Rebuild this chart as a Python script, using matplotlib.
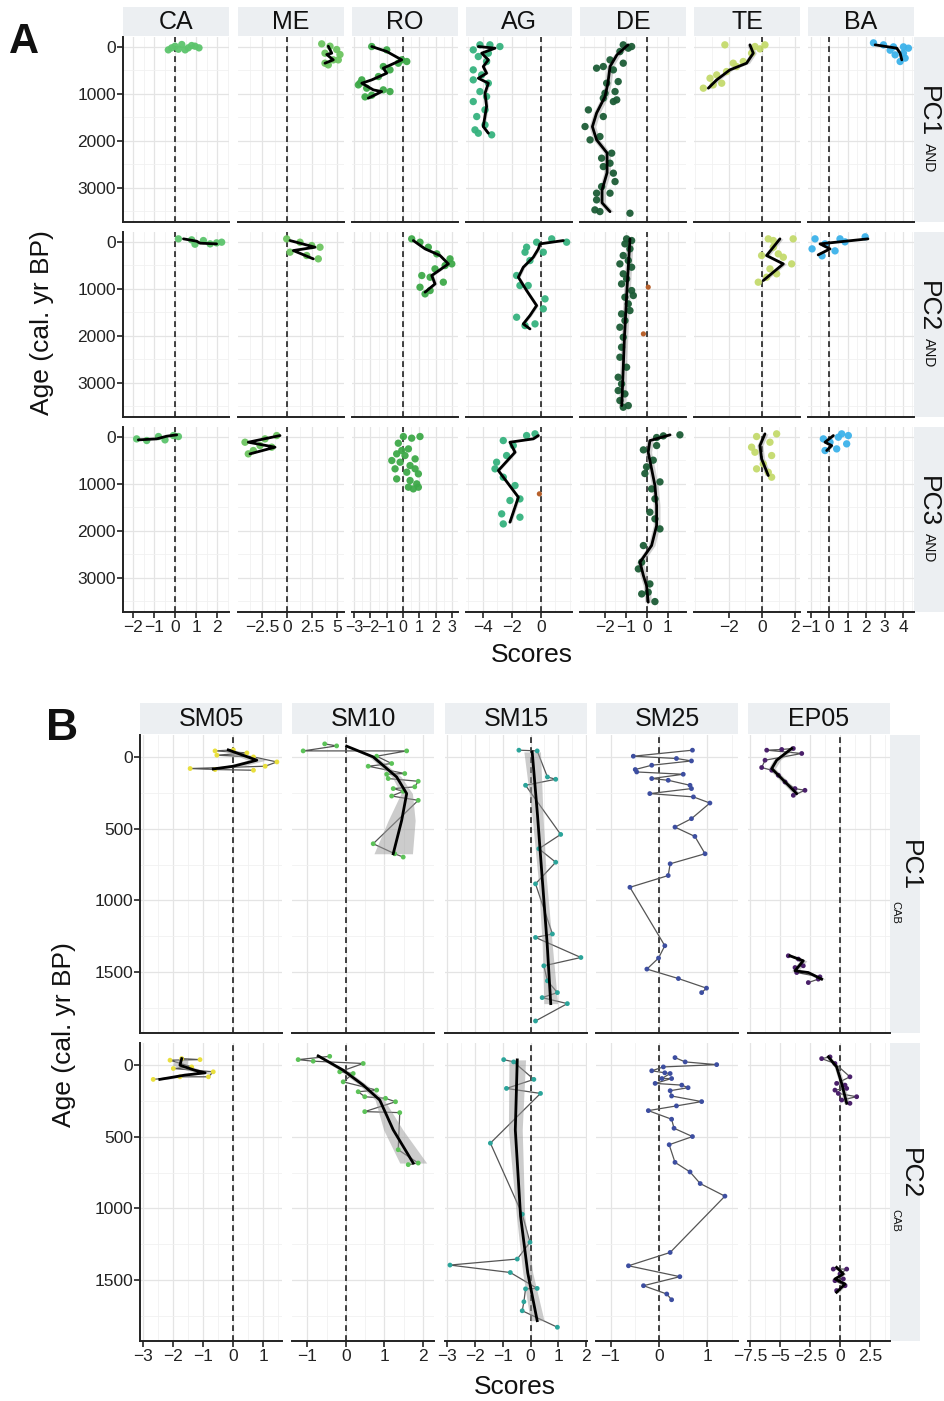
import matplotlib
matplotlib.use('Agg')
import matplotlib.pyplot as plt
from matplotlib.patches import Rectangle
from matplotlib.ticker import FixedLocator, MultipleLocator, FuncFormatter

plt.rcParams['font.family'] = ['Liberation Sans', 'DejaVu Sans']

# ---------------- panel A data: (age, score) ----------------
CA_PC1_pts = [(-50, 0.32), (-28, 0.79), (-14, 0.0), (-14, 0.95), (21, 0.63), (21, 1.14),
              (21, -0.16), (50, 0.16), (64, -0.32), (64, 0.48)]
CA_PC1_fit = []
CA_PC2_pts = [(-64, 0.16), (-43, 0.79), (-28, 1.35), (7, 2.22), (21, 1.98), (43, 1.67), (50, 0.95)]
CA_PC2_fit = [(-64, 0.40), (-14, 1.03), (28, 1.19), (43, 1.98)]
CA_PC3_pts = [(43, -1.83), (78, -1.35), (-7, -0.79), (-28, -0.08), (-7, 0.16), (64, -0.48)]
CA_PC3_fit = [(-43, 0.08), (-14, -0.40), (43, -0.87), (64, -1.75)]

ME_PC1_pts = [(-64, 3.47), (-14, 4.3), (57, 4.97), (163, 5.3), (135, 3.8), (277, 4.63),
              (348, 3.8), (384, 4.13), (277, 5.13)]
ME_PC1_fit = [(-14, 4.13), (135, 4.47), (163, 3.97), (277, 4.63), (348, 3.8)]
ME_PC2_pts = [(-64, -0.03), (7, 1.3), (114, 3.3), (220, 0.3), (362, 3.13), (291, 1.97), (79, 2.47)]
ME_PC2_fit = [(-28, 0.3), (114, 2.8), (185, 0.63), (362, 2.63)]
ME_PC3_pts = [(-28, -1.03), (114, -4.2), (185, -2.7), (220, -1.53), (362, -3.87), (43, -2.2), (291, -3.37)]
ME_PC3_fit = [(-28, -0.7), (114, -3.87), (220, -1.2), (362, -3.7)]

RO_PC1_pts = [(-7, -1.92), (64, -1.0), (277, -0.08), (312, 0.23), (419, -1.21), (490, -0.80),
              (632, -1.51), (703, -2.53), (810, -2.74), (880, -2.23), (952, -0.80), (916, -1.21),
              (1065, -2.33), (1029, -1.92), (774, -2.64), (348, -0.29)]
RO_PC1_fit = [(-7, -1.92), (99, -1.0), (277, -0.08), (454, -1.21), (561, -1.0), (703, -1.92),
              (774, -2.53), (916, -1.82), (952, -1.31), (1093, -2.13)]
RO_PC2_pts = [(-64, 0.53), (7, 1.04), (114, 1.55), (256, 2.07), (362, 2.88), (504, 2.58), (469, 2.99),
              (717, 1.15), (753, 1.66), (859, 2.47), (966, 1.04), (1037, 1.66), (1108, 1.35), (575, 1.96)]
RO_PC2_fit = [(-28, 0.63), (149, 1.35), (291, 2.27), (469, 2.78), (717, 1.76), (895, 1.96), (1072, 1.35)]
RO_PC3_pts = [(-7, 0.02), (28, 0.53), (-7, 1.04), (135, -0.29), (256, 0.33), (362, -0.39), (398, 0.12),
              (504, -0.69), (540, -0.18), (611, 0.43), (681, 0.74), (753, 0.23), (788, 0.94),
              (895, -0.39), (930, 0.43), (1001, 0.84), (1072, 0.33), (1072, 0.94), (1108, 0.63),
              (291, -0.08), (469, 0.74), (681, -0.49)]
RO_PC3_fit = []

AG_PC1_pts = [(-43, -4.21), (-43, -3.52), (-7, -2.83), (64, -4.67), (135, -3.63), (206, -4.32),
              (312, -3.75), (490, -4.67), (597, -4.09), (703, -4.67), (774, -3.63), (952, -4.21),
              (1165, -4.67), (1342, -3.86), (1484, -4.43), (1662, -3.86), (1768, -4.55), (1874, -3.40),
              (1839, -4.32), (1058, -3.75)]
AG_PC1_fit = [(-7, -4.32), (28, -3.17), (135, -4.09), (277, -3.63), (419, -3.98), (561, -3.75),
              (668, -4.32), (774, -3.63), (987, -3.86), (1271, -3.75), (1697, -3.98), (1839, -3.63)]
AG_PC2_pts = [(-64, 0.74), (7, 1.77), (114, -0.99), (220, 0.16), (398, -0.76), (717, -1.68), (930, -1.45),
              (930, -0.88), (1214, 0.28), (1427, 0.16), (1605, -1.68), (1783, -1.10), (1747, -0.41),
              (7, -0.30), (220, -1.10)]
AG_PC2_fit = [(-28, 1.54), (43, -0.07), (149, -0.18), (327, -0.53), (540, -1.22), (753, -1.56),
              (1037, -0.99), (1356, -0.30), (1569, -0.76), (1747, -1.22), (1854, -0.76)]
AG_PC3_pts = [(-64, -0.41), (79, -2.60), (185, -1.91), (398, -2.37), (681, -3.17), (859, -2.60),
              (1037, -1.79), (1321, -1.45), (1356, -2.14), (1640, -2.71), (1711, -1.45), (1854, -2.60),
              (-28, -0.99), (540, -3.06)]
AG_PC3_fit = [(-28, -0.18), (43, -0.53), (114, -2.14), (327, -1.79), (717, -2.94), (1285, -1.56), (1818, -2.14)]

DE_PC1_pts = [(-43, -1.13), (-7, -0.73), (28, -0.89), (100, -1.29), (277, -1.76), (454, -2.40), (419, -2.08),
              (348, -1.13), (490, -1.60), (739, -1.37), (774, -1.92), (987, -2.0), (952, -1.52), (1129, -1.44),
              (1093, -2.08), (1165, -1.60), (1342, -2.79), (1484, -2.08), (1697, -2.95), (2264, -1.68),
              (2371, -2.16), (2550, -2.08), (2690, -1.60), (2869, -1.52), (3116, -2.40), (3116, -1.76),
              (3259, -2.40), (3472, -2.48), (3508, -2.24), (3543, -0.81), (1981, -2.71), (1910, -2.24),
              (2478, -1.76), (2976, -2.16)]
DE_PC1_fit = [(-43, -0.9), (170, -1.43), (420, -1.76), (770, -1.86), (1060, -2.0), (1410, -2.4),
              (1700, -2.6), (1980, -2.4), (2260, -1.9), (2680, -1.9), (3050, -2.14), (3320, -2.14), (3510, -1.76)]
DE_PC2_pts = [(-64, -0.97), (-28, -0.73), (43, -1.05), (149, -0.81), (291, -1.13), (397, -0.89), (469, -1.29),
              (540, -0.73), (681, -1.13), (788, -0.97), (895, -1.21), (1037, -0.73), (1179, -1.05),
              (1321, -0.89), (1534, -1.21), (1676, -1.05), (1818, -1.29), (2031, -1.13), (2244, -1.21),
              (2457, -1.29), (2670, -0.97), (2883, -1.37), (3025, -1.21), (3238, -1.05), (3380, -1.29),
              (3487, -0.89), (3522, -1.13), (3167, -1.37), (1463, -0.81), (1143, -0.65)]
DE_PC2_fit = [(-64, -0.81), (1000, -0.95), (2000, -1.07), (3487, -1.2)]
DE_PC3_pts = [(-43, 1.57), (-21, 0.78), (14, 0.46), (277, -0.17), (497, 0.30), (781, -0.10), (959, 0.62),
              (1321, 0.38), (1960, 0.62), (1605, 0.14), (2669, -0.25), (2812, -0.41), (3132, 0.14),
              (3345, -0.25), (3508, 0.38), (3309, 0.06), (1108, 0.22), (2315, -0.17), (1747, 0.38),
              (639, -0.02), (185, 0.46)]
DE_PC3_fit = [(-43, 1.10), (79, 0.14), (327, 0.06), (682, 0.22), (1037, 0.38), (1463, 0.46), (1889, 0.46),
              (2315, 0.22), (2669, -0.33), (2954, -0.17), (3167, -0.02), (3522, 0.06)]

TE_PC1_pts = [(-43, -2.22), (-43, 0.18), (43, -0.12), (135, -0.62), (312, -1.12), (348, -1.72), (419, -1.52),
              (526, -2.12), (597, -2.71), (668, -3.11), (774, -2.41), (880, -3.51), (810, -2.92), (-7, -0.42)]
TE_PC1_fit = [(-43, -0.72), (135, -0.52), (348, -0.92), (490, -1.92), (703, -2.71), (880, -3.21)]
TE_PC2_pts = [(-64, 0.38), (-28, 0.68), (-64, 1.87), (291, -0.02), (256, 0.98), (469, 1.78), (575, 0.48),
              (681, 0.88), (859, -0.22), (753, 0.28), (114, 0.68), (327, 1.28)]
TE_PC2_fit = [(-64, 1.08), (291, 0.28), (469, 1.28), (824, 0.08)]
TE_PC3_pts = [(-64, 0.88), (-7, -0.32), (220, -0.62), (114, 0.48), (327, -0.42), (398, 0.58), (681, -0.32),
              (753, 0.38), (859, 0.58), (575, 0.08)]
TE_PC3_fit = [(-64, 0.18), (185, -0.12), (469, -0.02), (824, 0.38)]

BA_PC1_pts = [(-85, 2.40), (-43, 2.94), (0, 3.48), (0, 4.02), (28, 4.29), (135, 4.02), (170, 3.57),
              (312, 3.84), (240, 4.11), (71, 3.30)]
BA_PC1_fit = [(-43, 2.49), (28, 3.66), (135, 3.84), (277, 3.93)]
BA_PC2_pts = [(-64, -0.76), (-64, 0.59), (-107, 1.95), (43, -0.22), (149, -0.92), (192, 0.32), (298, -0.38), (0, 0.86)]
BA_PC2_fit = [(-64, 2.1), (43, -0.49), (149, 0.05), (277, -0.59)]
BA_PC3_pts = [(-28, 1.04), (7, 0.50), (43, -0.31), (149, 0.95), (114, 0.05), (256, 0.41), (291, -0.22), (-64, 0.68)]
BA_PC3_fit = [(-28, 0.23), (114, -0.22), (185, 0.14), (291, -0.13)]

# odd (brown) points
AG_PC3_odd = [(1214, -0.11)]
DE_PC2_odd = [(965, 0.06), (1960, -0.17)]

# ---------------- panel B data: (age, score) and fits (age, score, se) ----------------
SM05_PC1_pts = [(-51, 0.01), (-44, -0.6), (-30, 0.46), (-14, -0.54), (-2, 0.68), (33, 1.46), (63, 1.07),
                (79, -1.43), (86, -0.6), (91, 0.68)]
SM05_PC1_fit = [(-51, -0.16, 0.2), (21, 0.79, 0.3), (63, 0.01, 0.3), (82, -0.66, 0.3)]
SM05_PC2_pts = [(-46, -1.71), (-39, -1.1), (-35, -2.1), (12, -1.38), (23, -1.99), (46, -0.66), (81, -0.82),
                (81, -1.77), (99, -2.66)]
SM05_PC2_fit = [(-46, -1.71, 0.2), (0, -1.77, 0.25), (35, -1.28, 0.25), (53, -0.93, 0.25), (69, -1.6, 0.25), (99, -2.44, 0.25)]

SM10_PC1_pts = [(-93, -0.55), (-79, -0.24), (-44, -1.11), (-44, 1.58), (-7, 0.80), (44, 1.19), (63, 0.58),
                (114, 1.53), (119, 1.06), (149, 1.10), (168, 1.88), (207, 1.79), (219, 1.23), (238, 1.49),
                (271, 1.19), (301, 1.88), (604, 0.71), (674, 1.27), (697, 1.49)]
SM10_PC1_fit = [(-77, 0.02, 0.05), (-2, 0.71, 0.1), (138, 1.32, 0.12), (254, 1.58, 0.15), (441, 1.45, 0.35), (674, 1.23, 0.5)]
SM10_PC2_pts = [(-62, -0.42), (-39, -1.24), (-28, -0.85), (-12, 0.45), (46, -0.16), (58, 0.19), (116, -0.07),
                (174, 0.80), (185, 0.32), (220, 0.49), (231, 1.03), (255, 1.29), (324, 0.49), (331, 1.40),
                (590, 1.36), (683, 1.88), (694, 1.62)]
SM10_PC2_fit = [(-65, -0.72, 0.05), (35, -0.07, 0.1), (139, 0.45, 0.1), (243, 0.88, 0.12), (451, 1.23, 0.25), (683, 1.75, 0.35)]

SM15_PC1_pts = [(-49, -0.42), (-44, 0.24), (138, 0.61), (154, 0.91), (196, -0.18), (539, 1.09), (639, 0.30),
                (733, 0.91), (884, 0.18), (1234, 0.79), (1258, 0.18), (1398, 1.82), (1456, 0.48), (1561, 0.61),
                (1643, 0.97), (1678, 0.42), (1720, 1.33), (1841, 0.18)]
SM15_PC1_fit = [(-37, 0.06, 0.3), (400, 0.25, 0.2), (840, 0.42, 0.15), (1300, 0.6, 0.18), (1720, 0.73, 0.25)]
SM15_PC2_pts = [(-39, -0.97), (-23, -0.61), (99, 0.12), (162, -0.87), (197, 0.36), (544, -1.45), (1040, -0.30),
                (1236, -0.02), (1353, -0.48), (1395, -2.91), (1447, -0.73), (1558, 0.24), (1561, -0.18),
                (1651, -0.24), (1714, -0.30), (1829, 0.97)]
SM15_PC2_fit = [(-37, -0.48, 0.3), (451, -0.55, 0.25), (1053, -0.36, 0.15), (1450, -0.1, 0.18), (1783, 0.24, 0.25)]

SM25_PC1_pts = [(-49, 0.69), (-7, -0.53), (9, 0.36), (26, 0.67), (56, -0.15), (86, -0.49), (103, -0.46),
                (119, 0.50), (149, -0.15), (161, 0.19), (196, 0.64), (219, 0.67), (254, -0.19), (277, 0.71),
                (320, 1.05), (429, 0.67), (488, 0.33), (553, 0.74), (674, 0.95), (744, 0.23), (826, 0.19),
                (908, -0.60), (1316, 0.12), (1402, -0.01), (1479, -0.25), (1545, 0.40), (1612, 0.98), (1643, 0.88)]
SM25_PC1_fit = []
SM25_PC2_pts = [(-53, 0.33), (-23, 0.54), (-4, 1.19), (12, 0.09), (39, -0.15), (53, 0.12), (58, 0.23),
                (93, 0.06), (93, 0.26), (127, -0.08), (139, 0.47), (157, 0.60), (178, 0.23), (215, 0.26),
                (254, 0.88), (284, 0.36), (317, -0.22), (377, 0.26), (440, 0.31), (498, 0.69), (555, 0.21),
                (678, 0.33), (745, 0.64), (826, 0.85), (914, 1.36), (1307, 0.23), (1400, -0.63), (1476, 0.43),
                (1539, -0.32), (1597, 0.16), (1637, 0.26)]
SM25_PC2_fit = []

EP05_PC1_pts_a = [(-61, -3.89), (-54, -4.86), (-49, -6.11), (-26, -3.19), (21, -6.25), (72, -6.53), (91, -5.69),
                  (126, -5.14), (173, -4.58), (219, -3.75), (231, -2.92), (266, -3.89)]
EP05_PC1_pts_b = [(1386, -4.31), (1409, -3.47), (1456, -3.06), (1468, -3.75), (1503, -3.61), (1533, -1.67),
                  (1549, -1.81), (1573, -2.64)]
EP05_PC1_fit_a = [(-61, -4.03, 0.25), (21, -5.28, 0.3), (79, -5.69, 0.3), (161, -4.72, 0.3), (254, -3.61, 0.3)]
EP05_PC1_fit_b = [(1386, -4.17, 0.3), (1421, -3.06, 0.3), (1491, -3.75, 0.3), (1503, -2.64, 0.3), (1549, -1.53, 0.3)]
EP05_PC2_pts_a = [(-58, -0.83), (-46, -1.53), (-12, -0.42), (81, 0.83), (127, -0.28), (139, 0.42), (162, 0.56),
                  (174, -0.42), (197, -0.14), (220, 1.39), (243, 0.14), (266, 0.83)]
EP05_PC2_pts_b = [(1423, -0.56), (1423, 0.56), (1457, 0.0), (1492, 0.28), (1504, -0.42), (1539, 0.42), (1573, -0.28)]
EP05_PC2_fit_a = [(-58, -0.97, 0.2), (12, -0.28, 0.2), (127, 0.14, 0.2), (266, 0.56, 0.25)]
EP05_PC2_fit_b = [(1411, -0.28, 0.2), (1457, 0.28, 0.2), (1492, -0.42, 0.2), (1527, 0.42, 0.2), (1585, -0.28, 0.2)]

# ---------------- tables ----------------
A_COLS = ['CA', 'ME', 'RO', 'AG', 'DE', 'TE', 'BA']
A_ROWS = ['PC1', 'PC2', 'PC3']
A_PTS = {
    ('CA', 'PC1'): CA_PC1_pts, ('CA', 'PC2'): CA_PC2_pts, ('CA', 'PC3'): CA_PC3_pts,
    ('ME', 'PC1'): ME_PC1_pts, ('ME', 'PC2'): ME_PC2_pts, ('ME', 'PC3'): ME_PC3_pts,
    ('RO', 'PC1'): RO_PC1_pts, ('RO', 'PC2'): RO_PC2_pts, ('RO', 'PC3'): RO_PC3_pts,
    ('AG', 'PC1'): AG_PC1_pts, ('AG', 'PC2'): AG_PC2_pts, ('AG', 'PC3'): AG_PC3_pts,
    ('DE', 'PC1'): DE_PC1_pts, ('DE', 'PC2'): DE_PC2_pts, ('DE', 'PC3'): DE_PC3_pts,
    ('TE', 'PC1'): TE_PC1_pts, ('TE', 'PC2'): TE_PC2_pts, ('TE', 'PC3'): TE_PC3_pts,
    ('BA', 'PC1'): BA_PC1_pts, ('BA', 'PC2'): BA_PC2_pts, ('BA', 'PC3'): BA_PC3_pts,
}
A_FIT = {
    ('CA', 'PC1'): CA_PC1_fit, ('CA', 'PC2'): CA_PC2_fit, ('CA', 'PC3'): CA_PC3_fit,
    ('ME', 'PC1'): ME_PC1_fit, ('ME', 'PC2'): ME_PC2_fit, ('ME', 'PC3'): ME_PC3_fit,
    ('RO', 'PC1'): RO_PC1_fit, ('RO', 'PC2'): RO_PC2_fit, ('RO', 'PC3'): RO_PC3_fit,
    ('AG', 'PC1'): AG_PC1_fit, ('AG', 'PC2'): AG_PC2_fit, ('AG', 'PC3'): AG_PC3_fit,
    ('DE', 'PC1'): DE_PC1_fit, ('DE', 'PC2'): DE_PC2_fit, ('DE', 'PC3'): DE_PC3_fit,
    ('TE', 'PC1'): TE_PC1_fit, ('TE', 'PC2'): TE_PC2_fit, ('TE', 'PC3'): TE_PC3_fit,
    ('BA', 'PC1'): BA_PC1_fit, ('BA', 'PC2'): BA_PC2_fit, ('BA', 'PC3'): BA_PC3_fit,
}
A_ODD = {('AG', 'PC3'): AG_PC3_odd, ('DE', 'PC2'): DE_PC2_odd}
A_SE = {'CA': 0.08, 'ME': 0.12, 'RO': 0.12, 'AG': 0.12, 'DE': 0.16, 'TE': 0.18, 'BA': 0.1}
A_COLOR = {'CA': '#5cc46c', 'ME': '#6cc460', 'RO': '#3ea949', 'AG': '#36b27e', 'DE': '#1c5c36',
           'TE': '#c4da6c', 'BA': '#3cb2ea'}
A_XLIM = {'CA': (-2.48, 2.57), 'ME': (-4.9, 5.7), 'RO': (-3.13, 3.37), 'AG': (-5.17, 2.14),
          'DE': (-3.19, 1.86), 'TE': (-4.07, 2.28), 'BA': (-1.14, 4.59)}
A_XTICKS = {'CA': [-2, -1, 0, 1, 2], 'ME': [-2.5, 0, 2.5, 5], 'RO': [-3, -2, -1, 0, 1, 2, 3],
            'AG': [-4, -2, 0], 'DE': [-2, -1, 0, 1], 'TE': [-2, 0, 2], 'BA': [-1, 0, 1, 2, 3, 4]}
A_XMINOR = {'CA': 0.5, 'ME': 1.25, 'RO': 0.5, 'AG': 1, 'DE': 0.5, 'TE': 1, 'BA': 0.5}

B_COLS = ['SM05', 'SM10', 'SM15', 'SM25', 'EP05']
B_ROWS = ['PC1', 'PC2']
B_PTS = {
    ('SM05', 'PC1'): [SM05_PC1_pts], ('SM05', 'PC2'): [SM05_PC2_pts],
    ('SM10', 'PC1'): [SM10_PC1_pts], ('SM10', 'PC2'): [SM10_PC2_pts],
    ('SM15', 'PC1'): [SM15_PC1_pts], ('SM15', 'PC2'): [SM15_PC2_pts],
    ('SM25', 'PC1'): [SM25_PC1_pts], ('SM25', 'PC2'): [SM25_PC2_pts],
    ('EP05', 'PC1'): [EP05_PC1_pts_a, EP05_PC1_pts_b], ('EP05', 'PC2'): [EP05_PC2_pts_a, EP05_PC2_pts_b],
}
B_FIT = {
    ('SM05', 'PC1'): [SM05_PC1_fit], ('SM05', 'PC2'): [SM05_PC2_fit],
    ('SM10', 'PC1'): [SM10_PC1_fit], ('SM10', 'PC2'): [SM10_PC2_fit],
    ('SM15', 'PC1'): [SM15_PC1_fit], ('SM15', 'PC2'): [SM15_PC2_fit],
    ('SM25', 'PC1'): [SM25_PC1_fit], ('SM25', 'PC2'): [SM25_PC2_fit],
    ('EP05', 'PC1'): [EP05_PC1_fit_a, EP05_PC1_fit_b], ('EP05', 'PC2'): [EP05_PC2_fit_a, EP05_PC2_fit_b],
}
B_COLOR = {'SM05': '#e9df3c', 'SM10': '#5cc258', 'SM15': '#2ba49a', 'SM25': '#3d4ea0', 'EP05': '#4a206a'}
B_XLIM = {'SM05': (-3.1, 1.63), 'SM10': (-1.4, 2.29), 'SM15': (-3.09, 2.04), 'SM25': (-1.3, 1.63),
          'EP05': (-7.67, 4.17)}
B_XTICKS = {'SM05': [-3, -2, -1, 0, 1], 'SM10': [-1, 0, 1, 2], 'SM15': [-3, -2, -1, 0, 1, 2],
            'SM25': [-1, 0, 1], 'EP05': [-7.5, -5, -2.5, 0, 2.5]}
B_XMINOR = {'SM05': 0.5, 'SM10': 0.5, 'SM15': 0.5, 'SM25': 0.5, 'EP05': 1.25}

# ---------------- layout (pixels) ----------------
W, H = 944, 1401
STRIP_BG = '#eceff2'
GRID_MAJ = '#e4e4e4'
GRID_MIN = '#f1f1f1'


def frac(x0, y0, x1, y1):
    return [x0 / W, 1 - y1 / H, (x1 - x0) / W, (y1 - y0) / H]


def box(fig, x0, y0, x1, y1):
    fig.add_artist(Rectangle((x0 / W, 1 - y1 / H), (x1 - x0) / W, (y1 - y0) / H,
                             transform=fig.transFigure, facecolor=STRIP_BG, edgecolor='none', zorder=0))


def ftext(fig, x, y, s, **kw):
    fig.text(x / W, 1 - y / H, s, ha='center', va='center', **kw)


def fmt(v, pos):
    return ('%g' % v).replace('-', '\u2212')


def style_axes(ax, xlim, ylim, xticks, xminor, yticks, yminor, first_col, bottom_row, tick_fs):
    ax.set_xlim(*xlim)
    ax.set_ylim(*ylim)
    ax.xaxis.set_major_locator(FixedLocator(xticks))
    ax.xaxis.set_minor_locator(MultipleLocator(xminor))
    ax.yaxis.set_major_locator(FixedLocator(yticks))
    ax.yaxis.set_minor_locator(MultipleLocator(yminor))
    ax.xaxis.set_major_formatter(FuncFormatter(fmt))
    ax.grid(True, which='major', color=GRID_MAJ, lw=0.9, zorder=0)
    ax.grid(True, which='minor', color=GRID_MIN, lw=0.6, zorder=0)
    ax.set_axisbelow(True)
    for side in ['top', 'right', 'left', 'bottom']:
        ax.spines[side].set_visible(False)
    ax.spines['bottom'].set_visible(True)
    ax.spines['bottom'].set_color('#222222')
    ax.spines['bottom'].set_linewidth(1.4)
    if first_col:
        ax.spines['left'].set_visible(True)
        ax.spines['left'].set_color('#222222')
        ax.spines['left'].set_linewidth(1.4)
    ax.tick_params(which='minor', length=0)
    ax.tick_params(axis='x', which='major', length=4 if bottom_row else 0, width=1.2,
                   color='#222222', labelbottom=bottom_row, labelsize=tick_fs, pad=2, labelcolor='#222222')
    ax.tick_params(axis='y', which='major', length=4 if first_col else 0, width=1.2,
                   color='#222222', labelleft=first_col, labelsize=12.5, pad=1, labelcolor='#222222')
    ax.axvline(0, color='#222222', lw=1.2, ls=(0, (3.5, 2.5)), zorder=1)


fig = plt.figure(figsize=(W / 100, H / 100), dpi=100)
fig.patch.set_facecolor('white')

# ---------------- panel A ----------------
A_LEFT = [123, 238, 352, 466, 580, 694, 808]
A_W = 106
A_TOP = [37, 232, 427]
A_H = 185
for ci, col in enumerate(A_COLS):
    x0 = A_LEFT[ci]
    box(fig, x0, 7, x0 + A_W, 36)
    ftext(fig, x0 + A_W / 2, 22, col, fontsize=18, color='#111111')
    for ri, row in enumerate(A_ROWS):
        y0 = A_TOP[ri]
        ax = fig.add_axes(frac(x0, y0, x0 + A_W, y0 + A_H))
        style_axes(ax, A_XLIM[col], (3730, -210), A_XTICKS[col], A_XMINOR[col],
                   [0, 1000, 2000, 3000], 500, ci == 0, ri == 2, 11.5 if col == 'RO' else 12.5)
        pts = A_PTS[(col, row)]
        fit = A_FIT[(col, row)]
        if fit:
            fa = [p[0] for p in fit]
            fv = [p[1] for p in fit]
            se = A_SE[col]
            ax.fill_betweenx(fa, [v - se for v in fv], [v + se for v in fv],
                             color='#9a9a9a', alpha=0.45, lw=0, zorder=2)
        ax.scatter([p[1] for p in pts], [p[0] for p in pts], s=28, color=A_COLOR[col],
                   edgecolors='none', alpha=0.95, zorder=3)
        if (col, row) in A_ODD:
            odd = A_ODD[(col, row)]
            ax.scatter([p[1] for p in odd], [p[0] for p in odd], s=14, color='#b8612c',
                       edgecolors='none', zorder=3)
        if fit:
            ax.plot(fv, fa, color='black', lw=2.0, zorder=4, solid_capstyle='round', solid_joinstyle='round')

for ri, row in enumerate(A_ROWS):
    y0 = A_TOP[ri]
    box(fig, 914, y0, 944, y0 + A_H)
    yc = y0 + A_H / 2
    ftext(fig, 928, yc - 18, row, fontsize=19, rotation=270, color='#111111')
    ftext(fig, 929, yc + 28, 'AND', fontsize=10, rotation=270, color='#111111')

ftext(fig, 42, 323, 'Age (cal. yr BP)', fontsize=19, rotation=90, color='#111111')
ftext(fig, 532, 655, 'Scores', fontsize=19, color='#111111')
ftext(fig, 24, 42, 'A', fontsize=30, fontweight='bold', color='#111111')

# ---------------- panel B ----------------
B_LEFT = [140, 292, 445, 596, 748]
B_W = 142
B_TOP = [735, 1043]
B_H = 298
for ci, col in enumerate(B_COLS):
    x0 = B_LEFT[ci]
    box(fig, x0, 703, x0 + B_W, 734)
    ftext(fig, x0 + B_W / 2, 719, col, fontsize=18, color='#111111')
    for ri, row in enumerate(B_ROWS):
        y0 = B_TOP[ri]
        ax = fig.add_axes(frac(x0, y0, x0 + B_W, y0 + B_H))
        style_axes(ax, B_XLIM[col], (1925, -155), B_XTICKS[col], B_XMINOR[col],
                   [0, 500, 1000, 1500], 250, ci == 0, ri == 1, 12.5)
        for grp in B_PTS[(col, row)]:
            g = sorted(grp, key=lambda p: p[0])
            ax.plot([p[1] for p in g], [p[0] for p in g], color='#555555', lw=0.9, zorder=2)
        for fit in B_FIT[(col, row)]:
            if fit:
                ax.fill_betweenx([p[0] for p in fit], [p[1] - p[2] for p in fit], [p[1] + p[2] for p in fit],
                                 color='#9a9a9a', alpha=0.5, lw=0, zorder=2)
        for grp in B_PTS[(col, row)]:
            ax.scatter([p[1] for p in grp], [p[0] for p in grp], s=12, color=B_COLOR[col],
                       edgecolors='none', zorder=3)
        for fit in B_FIT[(col, row)]:
            if fit:
                ax.plot([p[1] for p in fit], [p[0] for p in fit], color='black', lw=2.0, zorder=4,
                        solid_joinstyle='round')

for ri, row in enumerate(B_ROWS):
    y0 = B_TOP[ri]
    box(fig, 890, y0, 920, y0 + B_H)
    yc = y0 + B_H / 2
    ftext(fig, 910, yc - 18, row, fontsize=19, rotation=270, color='#111111')
    ftext(fig, 895, yc + 28, 'CAB', fontsize=8, rotation=270, color='#111111')

ftext(fig, 64, 1035, 'Age (cal. yr BP)', fontsize=19, rotation=90, color='#111111')
ftext(fig, 515, 1387, 'Scores', fontsize=19, color='#111111')
ftext(fig, 62, 728, 'B', fontsize=32, fontweight='bold', color='#111111')

fig.savefig('out.png', dpi=100, facecolor='white')
